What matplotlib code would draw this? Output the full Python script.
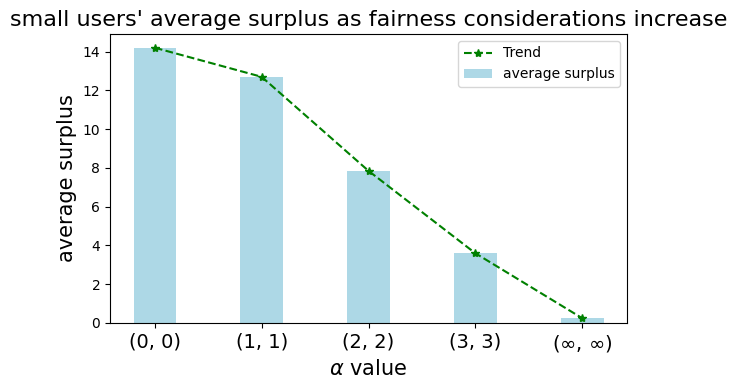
import matplotlib.pyplot as plt
import numpy as np

labels = ['(0, 0)', '(1, 1)', '(2, 2)', '(3, 3)', r'($\infty$, $\infty$)']
surplus = [14.2, 12.7, 7.85, 3.6, 0.25]

x = np.arange(len(labels))

fig = plt.figure(figsize=(7.37, 3.9), dpi=100)
# axes placed to match the reference layout
ax = fig.add_axes([110 / 737, 67 / 390, 517 / 737, 289 / 390])
ax.bar(x, surplus, width=0.4, color='lightblue', label='average surplus')
ax.plot(x, surplus, 'g*--', label='Trend')

ax.set_xticks(x)
ax.set_xticklabels(labels, fontsize=14)
ax.set_xlabel(r'$\alpha$ value', fontsize=15)
ax.set_ylabel('average surplus', fontsize=15)
ax.set_title("small users' average surplus as fairness considerations increase", fontsize=16)
ax.legend()

plt.savefig('out.png')
